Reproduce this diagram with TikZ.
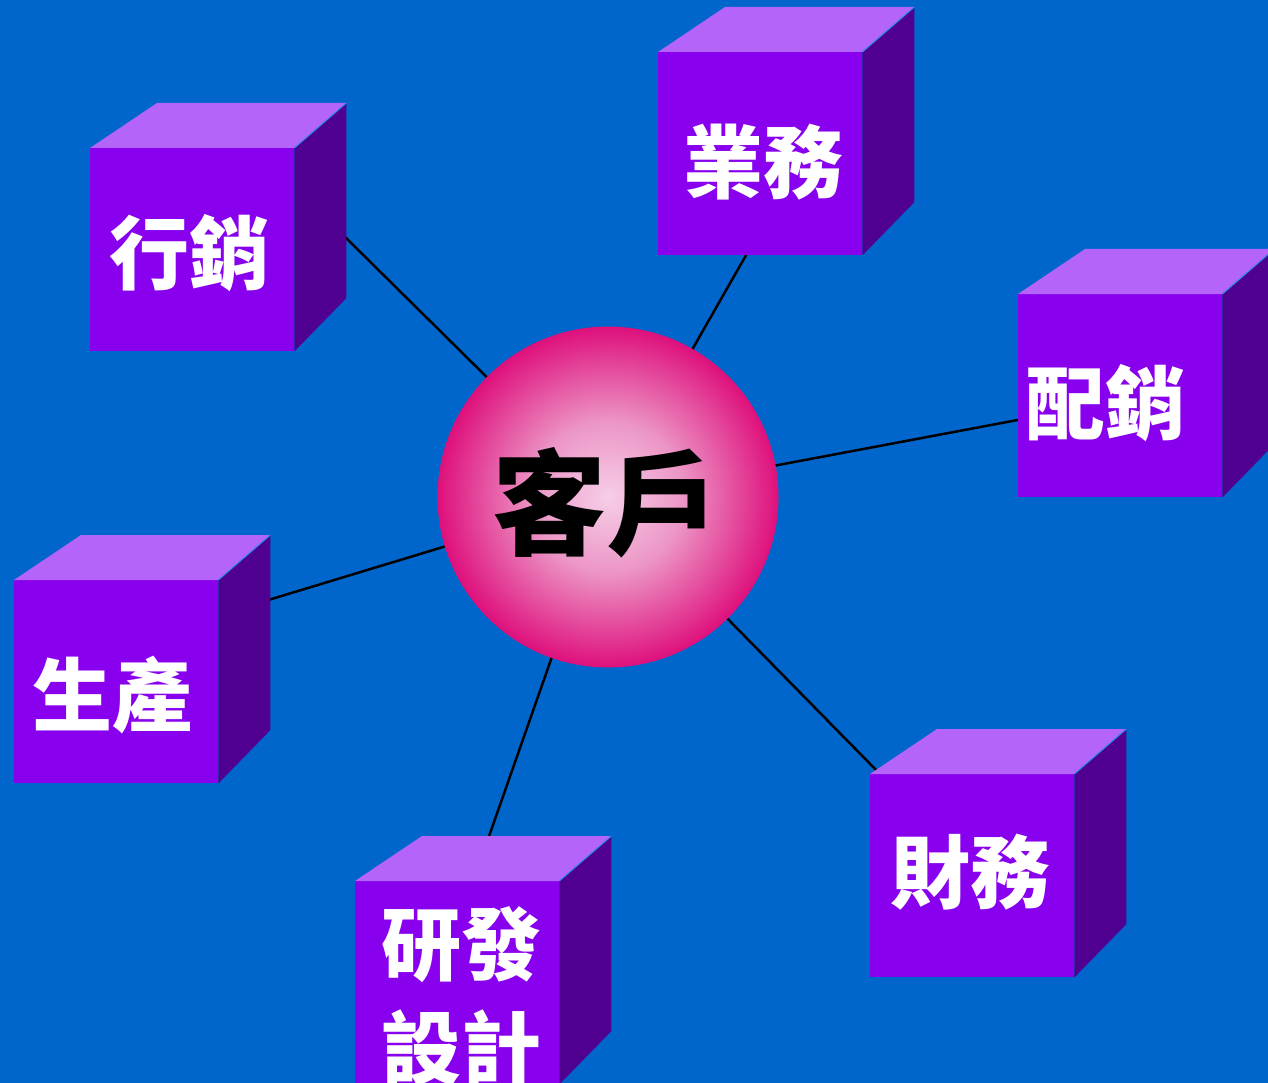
\documentclass[tikz,border=0pt]{standalone}
\usepackage{fontspec}
\newfontfamily\cjk{Noto Sans CJK TC}
\usetikzlibrary{calc}
\definecolor{bgc}{RGB}{0,102,204}
\definecolor{frontc}{RGB}{136,0,238}
\definecolor{topc}{RGB}{180,100,248}
\definecolor{sidec}{RGB}{80,0,144}
\definecolor{edgec}{RGB}{40,140,230}
\definecolor{pinkin}{RGB}{246,206,232}
\definecolor{pinkmid}{RGB}{236,150,198}
\definecolor{pinkout}{RGB}{222,16,124}
\pgfdeclareradialshading{pinkball}{\pgfpoint{0bp}{0bp}}{color(0bp)=(pinkin); color(11bp)=(pinkmid); color(25bp)=(pinkout); color(50bp)=(pinkout)}
\pgfdeclarelayer{bglayer}
\pgfdeclarelayer{linelayer}
\pgfsetlayers{bglayer,linelayer,main}
\tikzset{
  frontface/.style={fill=frontc, draw=none, minimum width=204pt, minimum height=203pt, inner sep=0pt},
  labeltext/.style={text=white, inner sep=0pt, align=center, font=\cjk\bfseries\fontsize{80}{104}\selectfont},
  centertext/.style={text=black, inner sep=0pt, font=\cjk\bfseries\fontsize{114}{120}\selectfont},
  link/.style={line width=2.5pt, draw=black},
}
\newcommand\drawcube[6]{%
  \node[frontface, anchor=north west] (#1) at (#2,#3) {};
  \fill[topc] (#1.north west) -- ++(67,-45) -- ++(189,0) -- (#1.north east) -- cycle;
  \fill[sidec] (#1.north east) -- ++(52,-45) -- ++(0,195) -- (#1.south east) -- cycle;
  \draw[edgec, line width=1pt] (#1.north east) -- ++(52,-45);
  \node[labeltext] (t#1) at (#4,#5) {#6};
}
\begin{document}
\begin{tikzpicture}[x=1pt, y=-1pt]
\useasboundingbox (0,0) rectangle (1268,1083);
\begin{pgfonlayer}{bglayer}
  \fill[bgc] (0,0) rectangle (1268,1083);
\end{pgfonlayer}
% centre
\node[circle, minimum size=341pt, inner sep=0pt, shade, shading=pinkball] (c) at (608,497) {};
\node[centertext] (ct) at (606,503) {客戶};
% cubes
\drawcube{f1}{90}{148}{189}{253}{行銷}
\drawcube{f2}{658}{52}{763}{162}{業務}
\drawcube{f3}{1018}{294}{1105}{403}{配銷}
\drawcube{f4}{14}{580}{112}{695}{生產}
\drawcube{f5}{355}{881}{461}{996}{研發\\設計}
\drawcube{f6}{870}{774}{970}{872}{財務}
% connector ends
\coordinate (e1) at (340,232);
\coordinate (e2) at (749,250);
\coordinate (e3) at (1023,419);
\coordinate (e4) at (265,601);
\coordinate (e5) at (487,842);
\coordinate (e6) at (882,776);
\begin{pgfonlayer}{linelayer}
  \foreach \e in {e1,e2,e3,e4,e5,e6} \draw[link] (c.center) -- (\e);
\end{pgfonlayer}
\end{tikzpicture}
\end{document}
